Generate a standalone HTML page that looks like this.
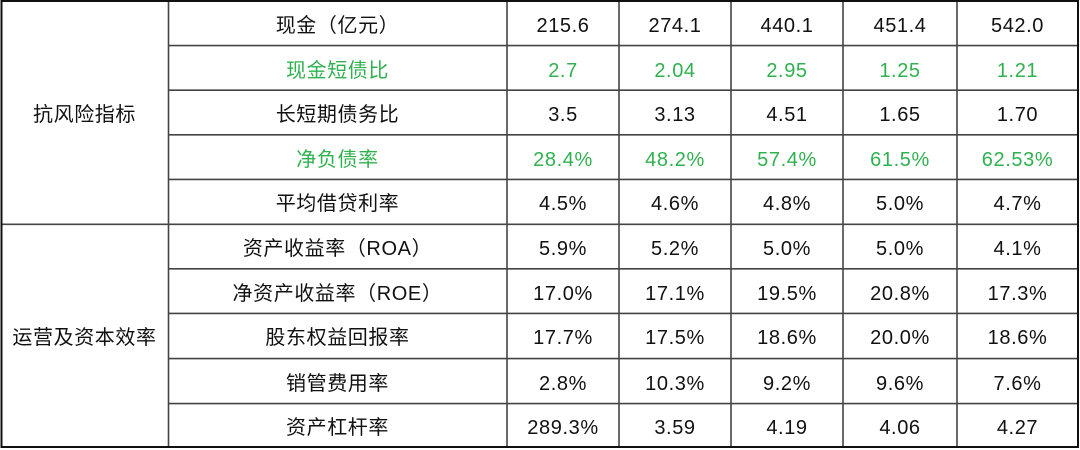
<!DOCTYPE html>
<html><head><meta charset="utf-8"><style>
html,body{margin:0;padding:0;background:#fff;}
#w{position:relative;width:1080px;height:450px;overflow:hidden;background:#fff;font-family:"Liberation Sans","Noto Sans CJK SC",sans-serif;color:#111;}
.c{position:absolute;display:flex;align-items:center;justify-content:center;font-size:20px;letter-spacing:0.6px;white-space:nowrap;box-sizing:border-box;padding-top:0px;}
.n{padding-top:6px;}
.g{color:#30b14f;}
svg{position:absolute;left:0;top:0;}
</style></head><body><div id="w">
<svg width="1080" height="450">
<g stroke="#444" stroke-width="1.6">
<line x1="168" y1="45.6" x2="1078" y2="45.6"/>
<line x1="168" y1="90.2" x2="1078" y2="90.2"/>
<line x1="168" y1="134.8" x2="1078" y2="134.8"/>
<line x1="168" y1="179.4" x2="1078" y2="179.4"/>
<line x1="1" y1="224.3" x2="1078" y2="224.3"/>
<line x1="168" y1="268.8" x2="1078" y2="268.8"/>
<line x1="168" y1="313.4" x2="1078" y2="313.4"/>
<line x1="168" y1="358.6" x2="1078" y2="358.6"/>
<line x1="168" y1="403.6" x2="1078" y2="403.6"/>
<line x1="168.5" y1="1" x2="168.5" y2="447"/>
<line x1="507" y1="1" x2="507" y2="447"/>
<line x1="619" y1="1" x2="619" y2="447"/>
<line x1="731" y1="1" x2="731" y2="447"/>
<line x1="843" y1="1" x2="843" y2="447"/>
<line x1="957" y1="1" x2="957" y2="447"/>
</g>
<rect x="1.5" y="1" width="1076.5" height="446" fill="none" stroke="#111" stroke-width="2"/>
</svg>
<div class="c" style="left:1px;top:1px;width:167px;height:223px;">抗风险指标</div>
<div class="c" style="left:1px;top:224px;width:167px;height:223px;">运营及资本效率</div>

<div class="c" style="left:168px;top:1px;width:339px;height:45px;">现金（亿元）</div>
<div class="c n" style="left:507px;top:1px;width:112px;height:45px;">215.6</div>
<div class="c n" style="left:619px;top:1px;width:112px;height:45px;">274.1</div>
<div class="c n" style="left:731px;top:1px;width:112px;height:45px;">440.1</div>
<div class="c n" style="left:843px;top:1px;width:114px;height:45px;">451.4</div>
<div class="c n" style="left:957px;top:1px;width:121px;height:45px;">542.0</div>

<div class="c g" style="left:168px;top:45.6px;width:339px;height:45px;">现金短债比</div>
<div class="c n g" style="left:507px;top:45.6px;width:112px;height:45px;">2.7</div>
<div class="c n g" style="left:619px;top:45.6px;width:112px;height:45px;">2.04</div>
<div class="c n g" style="left:731px;top:45.6px;width:112px;height:45px;">2.95</div>
<div class="c n g" style="left:843px;top:45.6px;width:114px;height:45px;">1.25</div>
<div class="c n g" style="left:957px;top:45.6px;width:121px;height:45px;">1.21</div>

<div class="c" style="left:168px;top:90.2px;width:339px;height:45px;">长短期债务比</div>
<div class="c n" style="left:507px;top:90.2px;width:112px;height:45px;">3.5</div>
<div class="c n" style="left:619px;top:90.2px;width:112px;height:45px;">3.13</div>
<div class="c n" style="left:731px;top:90.2px;width:112px;height:45px;">4.51</div>
<div class="c n" style="left:843px;top:90.2px;width:114px;height:45px;">1.65</div>
<div class="c n" style="left:957px;top:90.2px;width:121px;height:45px;">1.70</div>

<div class="c g" style="left:168px;top:134.8px;width:339px;height:45px;">净负债率</div>
<div class="c n g" style="left:507px;top:134.8px;width:112px;height:45px;">28.4%</div>
<div class="c n g" style="left:619px;top:134.8px;width:112px;height:45px;">48.2%</div>
<div class="c n g" style="left:731px;top:134.8px;width:112px;height:45px;">57.4%</div>
<div class="c n g" style="left:843px;top:134.8px;width:114px;height:45px;">61.5%</div>
<div class="c n g" style="left:957px;top:134.8px;width:121px;height:45px;">62.53%</div>

<div class="c" style="left:168px;top:179.4px;width:339px;height:45px;">平均借贷利率</div>
<div class="c n" style="left:507px;top:179.4px;width:112px;height:45px;">4.5%</div>
<div class="c n" style="left:619px;top:179.4px;width:112px;height:45px;">4.6%</div>
<div class="c n" style="left:731px;top:179.4px;width:112px;height:45px;">4.8%</div>
<div class="c n" style="left:843px;top:179.4px;width:114px;height:45px;">5.0%</div>
<div class="c n" style="left:957px;top:179.4px;width:121px;height:45px;">4.7%</div>

<div class="c" style="left:168px;top:224.3px;width:339px;height:45px;">资产收益率（ROA）</div>
<div class="c n" style="left:507px;top:224.3px;width:112px;height:45px;">5.9%</div>
<div class="c n" style="left:619px;top:224.3px;width:112px;height:45px;">5.2%</div>
<div class="c n" style="left:731px;top:224.3px;width:112px;height:45px;">5.0%</div>
<div class="c n" style="left:843px;top:224.3px;width:114px;height:45px;">5.0%</div>
<div class="c n" style="left:957px;top:224.3px;width:121px;height:45px;">4.1%</div>

<div class="c" style="left:168px;top:268.8px;width:339px;height:45px;">净资产收益率（ROE）</div>
<div class="c n" style="left:507px;top:268.8px;width:112px;height:45px;">17.0%</div>
<div class="c n" style="left:619px;top:268.8px;width:112px;height:45px;">17.1%</div>
<div class="c n" style="left:731px;top:268.8px;width:112px;height:45px;">19.5%</div>
<div class="c n" style="left:843px;top:268.8px;width:114px;height:45px;">20.8%</div>
<div class="c n" style="left:957px;top:268.8px;width:121px;height:45px;">17.3%</div>

<div class="c" style="left:168px;top:313.4px;width:339px;height:45px;">股东权益回报率</div>
<div class="c n" style="left:507px;top:313.4px;width:112px;height:45px;">17.7%</div>
<div class="c n" style="left:619px;top:313.4px;width:112px;height:45px;">17.5%</div>
<div class="c n" style="left:731px;top:313.4px;width:112px;height:45px;">18.6%</div>
<div class="c n" style="left:843px;top:313.4px;width:114px;height:45px;">20.0%</div>
<div class="c n" style="left:957px;top:313.4px;width:121px;height:45px;">18.6%</div>

<div class="c" style="left:168px;top:358.6px;width:339px;height:45px;">销管费用率</div>
<div class="c n" style="left:507px;top:358.6px;width:112px;height:45px;">2.8%</div>
<div class="c n" style="left:619px;top:358.6px;width:112px;height:45px;">10.3%</div>
<div class="c n" style="left:731px;top:358.6px;width:112px;height:45px;">9.2%</div>
<div class="c n" style="left:843px;top:358.6px;width:114px;height:45px;">9.6%</div>
<div class="c n" style="left:957px;top:358.6px;width:121px;height:45px;">7.6%</div>

<div class="c" style="left:168px;top:403.6px;width:339px;height:43.5px;">资产杠杆率</div>
<div class="c n" style="left:507px;top:403.6px;width:112px;height:43.5px;">289.3%</div>
<div class="c n" style="left:619px;top:403.6px;width:112px;height:43.5px;">3.59</div>
<div class="c n" style="left:731px;top:403.6px;width:112px;height:43.5px;">4.19</div>
<div class="c n" style="left:843px;top:403.6px;width:114px;height:43.5px;">4.06</div>
<div class="c n" style="left:957px;top:403.6px;width:121px;height:43.5px;">4.27</div>
</div></body></html>
